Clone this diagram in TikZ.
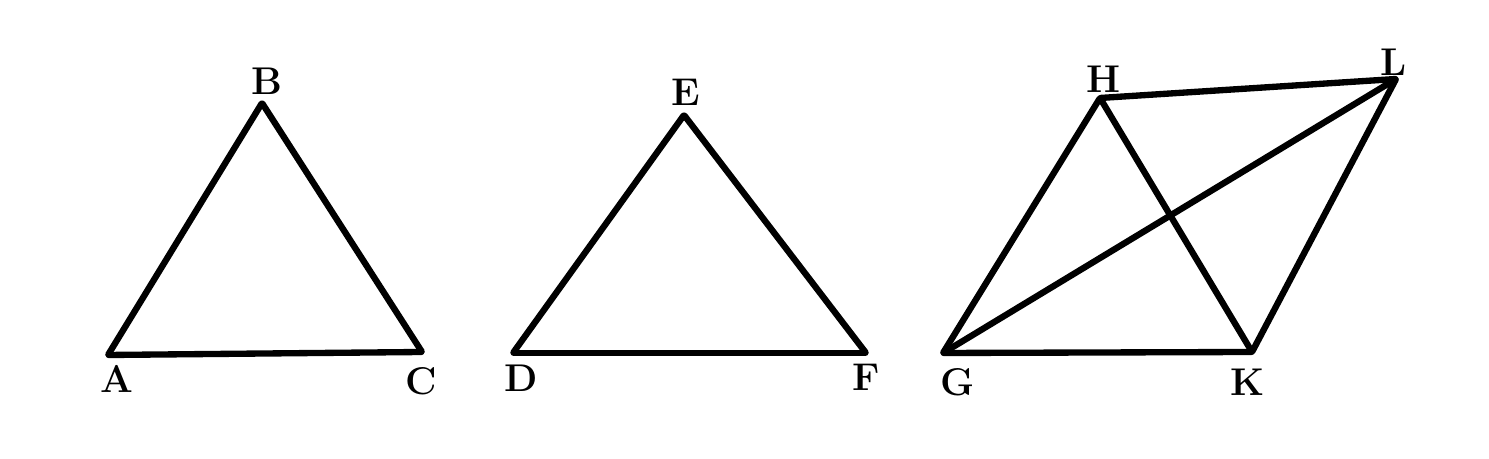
\documentclass[tikz,border=0pt]{standalone}
\usepackage{tikz}
\usetikzlibrary{positioning}

\begin{document}
\begin{tikzpicture}[x=0.01cm,y=-0.01cm]
	\useasboundingbox (0,0) rectangle (1489,459);
	\begin{scope}[every node/.style={inner sep=0pt, minimum size=0pt}]
		\node (A) at (108,355) {};
		\node (B) at (262,103) {};
		\node (C) at (422,352) {};
		\node (D) at (513,353) {};
		\node (E) at (684,115) {};
		\node (F) at (866,353) {};
		\node (G) at (943,353) {};
		\node (H) at (1100,98) {};
		\node (L) at (1396,79) {};
		\node (K) at (1252,352) {};
	\end{scope}

	\begin{scope}[every edge/.style={draw=black, line width=1.8pt, line cap=round}]
		\path (A) edge (B);
		\path (B) edge (C);
		\path (C) edge (A);
		\path (D) edge (E);
		\path (E) edge (F);
		\path (F) edge (D);
		\path (G) edge (H);
		\path (H) edge (L);
		\path (L) edge (K);
		\path (K) edge (G);
		\path (H) edge (K);
		\path (G) edge (L);
	\end{scope}

	\begin{scope}[every node/.style={font=\bfseries\fontsize{11}{13}\selectfont, inner sep=0pt}]
		\node (lA) at (117,379) {A};
		\node (lB) at (267,81) {B};
		\node (lC) at (421,381) {C};
		\node (lD) at (521,378) {D};
		\node (lE) at (686,92) {E};
		\node (lF) at (866,377) {F};
		\node (lG) at (958,382) {G};
		\node (lH) at (1103,79) {H};
		\node (lL) at (1394,62) {L};
		\node (lK) at (1248,382) {K};
	\end{scope}
\end{tikzpicture}
\end{document}
